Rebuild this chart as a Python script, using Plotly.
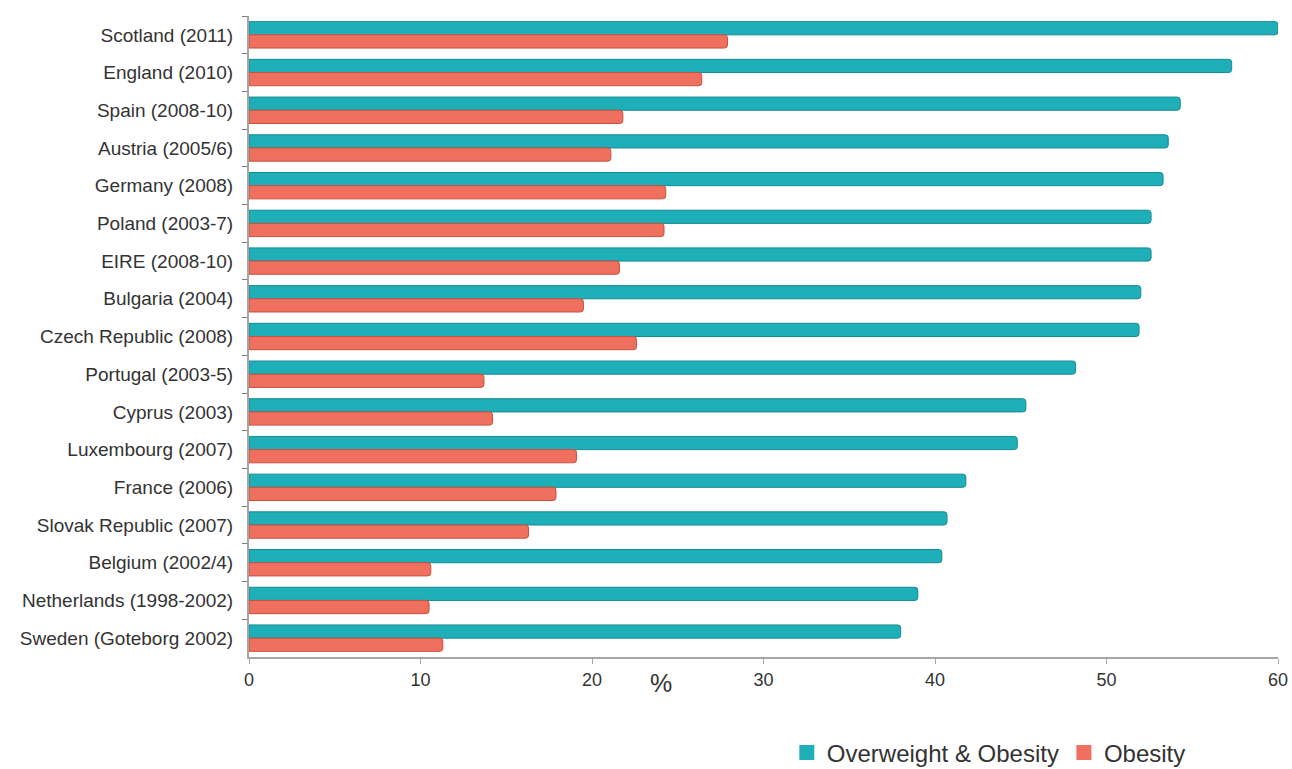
import plotly.graph_objects as go

countries = [
    "Scotland (2011)", "England (2010)", "Spain (2008-10)", "Austria (2005/6)",
    "Germany (2008)", "Poland (2003-7)", "EIRE (2008-10)", "Bulgaria (2004)",
    "Czech Republic (2008)", "Portugal (2003-5)", "Cyprus (2003)",
    "Luxembourg (2007)", "France (2006)", "Slovak Republic (2007)",
    "Belgium (2002/4)", "Netherlands (1998-2002)", "Sweden (Goteborg 2002)",
]
overweight_obesity = [60.0, 57.3, 54.3, 53.6, 53.3, 52.6, 52.6, 52.0, 51.9,
                      48.2, 45.3, 44.8, 41.8, 40.7, 40.4, 39.0, 38.0]
obesity = [27.9, 26.4, 21.8, 21.1, 24.3, 24.2, 21.6, 19.5, 22.6,
           13.7, 14.2, 19.1, 17.9, 16.3, 10.6, 10.5, 11.3]
x_ticks = [0, 10, 20, 30, 40, 50, 60]

TEAL = "#1fafb8"
CORAL = "#f07060"

series = [
    ("Overweight & Obesity", overweight_obesity, TEAL, "#178a91"),
    ("Obesity", obesity, CORAL, "#c8503f"),
]

fig = go.Figure()
for name, values, color, edge in series:
    fig.add_trace(go.Bar(
        y=countries, x=values, orientation="h", name=name,
        legendgroup=name, showlegend=False,
        marker=dict(color=color, line=dict(color=edge, width=1), cornerradius=3),
    ))
# square legend keys
for name, values, color, edge in series:
    fig.add_trace(go.Scatter(
        x=[None], y=[None], mode="markers", name=name, legendgroup=name,
        marker=dict(symbol="square", size=15, color=color),
    ))

fig.update_layout(
    width=1292, height=769,
    margin=dict(l=249, r=14, t=16, b=112, autoexpand=False),
    paper_bgcolor="white", plot_bgcolor="white",
    barmode="group", bargap=0.3, bargroupgap=0.0,
    font=dict(family="Liberation Sans, Arial, sans-serif", size=18, color="#333333"),
    showlegend=True,
    legend=dict(
        orientation="h", xref="container", yref="container",
        x=0.609, xanchor="left", y=0.021, yanchor="middle",
        font=dict(size=24, color="#333333"), itemwidth=30,
        traceorder="normal", tracegroupgap=0,
    ),
    annotations=[dict(
        x=24.0, y=-0.04, xref="x", yref="paper", text="%", showarrow=False,
        font=dict(size=25, color="#333333"), xanchor="center", yanchor="middle",
    )],
)

fig.update_xaxes(
    range=[0, 60], tickvals=x_ticks, showgrid=False, zeroline=False,
    showline=True, linecolor="#a6a6a6", linewidth=2,
    ticks="outside", ticklen=5, tickcolor="#a6a6a6",
    tickfont=dict(size=18, color="#333333"), automargin=False,
)
fig.update_yaxes(
    autorange="reversed", showgrid=False, zeroline=False,
    showline=True, linecolor="#a6a6a6", linewidth=2,
    ticks="outside", ticklen=5, tickcolor="#7f7f7f", tickson="boundaries",
    tickfont=dict(size=19, color="#333333"), ticklabelstandoff=10,
    automargin=False,
)

fig.write_html("out.html")
